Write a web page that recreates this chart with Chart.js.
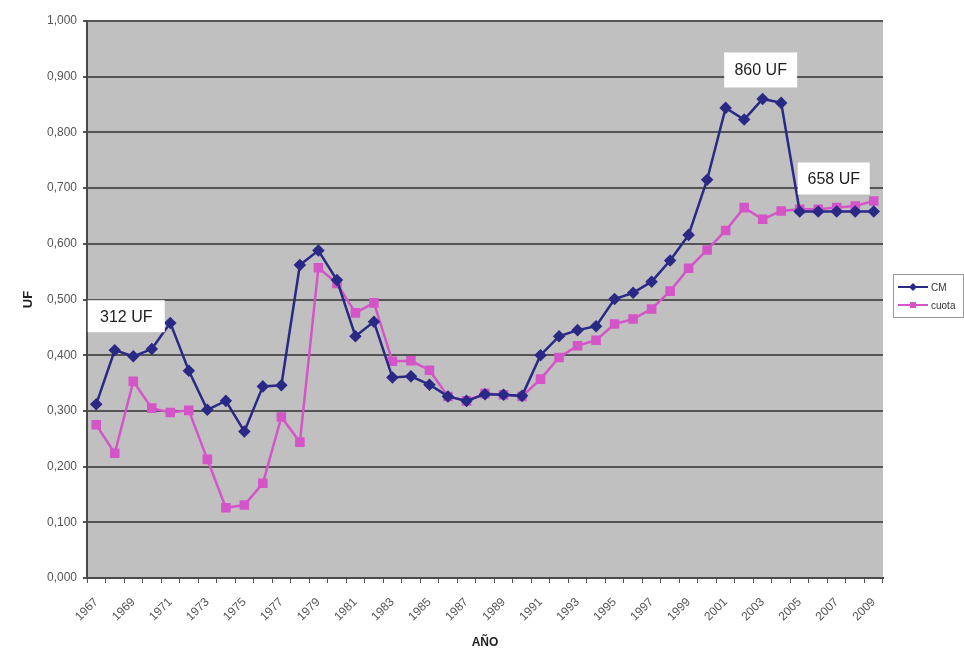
<!DOCTYPE html>
<html>
<head>
<meta charset="utf-8">
<title>CM y cuota (UF), 1967-2009</title>
<script src="https://cdn.jsdelivr.net/npm/chart.js@4/dist/chart.umd.min.js"></script>
<style>
  html, body { margin: 0; padding: 0; background: #ffffff; }
  #wrap { width: 964px; height: 650px; position: relative; }
</style>
</head>
<body>
<div id="wrap"><canvas id="chart" width="964" height="650"></canvas></div>
<script>
// Years on the category axis
const years = [
  '1967','1968','1969','1970','1971','1972','1973','1974','1975','1976',
  '1977','1978','1979','1980','1981','1982','1983','1984','1985','1986',
  '1987','1988','1989','1990','1991','1992','1993','1994','1995','1996',
  '1997','1998','1999','2000','2001','2002','2003','2004','2005','2006',
  '2007','2008','2009'
];

// CM series (UF)
const cmValues = [
  0.312, 0.409, 0.398, 0.411, 0.458, 0.372, 0.302, 0.318, 0.263, 0.344,
  0.346, 0.562, 0.588, 0.535, 0.434, 0.460, 0.360, 0.362, 0.347, 0.326,
  0.318, 0.330, 0.329, 0.327, 0.400, 0.434, 0.445, 0.452, 0.501, 0.512,
  0.532, 0.570, 0.616, 0.715, 0.844, 0.823, 0.860, 0.853, 0.658, 0.658,
  0.658, 0.658, 0.658
];

// cuota series (UF)
const cuotaValues = [
  0.275, 0.224, 0.353, 0.305, 0.297, 0.301, 0.213, 0.126, 0.131, 0.170,
  0.289, 0.244, 0.557, 0.529, 0.476, 0.494, 0.389, 0.390, 0.373, 0.326,
  0.318, 0.331, 0.329, 0.326, 0.357, 0.396, 0.417, 0.427, 0.456, 0.465,
  0.483, 0.515, 0.556, 0.589, 0.624, 0.665, 0.644, 0.659, 0.662, 0.662,
  0.665, 0.668, 0.677
];

// Y axis tick values
const yTicks = [0, 0.1, 0.2, 0.3, 0.4, 0.5, 0.6, 0.7, 0.8, 0.9, 1.0];

const seriesNames = ['CM', 'cuota'];
const CM_COLOR = '#2a2a86';
const CUOTA_COLOR = '#d455c8';

const fmtUF = v => v.toFixed(3).replace('.', ',');

// Callout boxes attached to CM points: category index, offset from the point, box size
const callouts = [
  { index: 0,  dx: 30,  dy: -88, w: 77, h: 32 },
  { index: 36, dx: -2,  dy: -29, w: 73, h: 35 },
  { index: 42, dx: -40, dy: -33, w: 72, h: 32 }
];

// Gray plot area background
const plotBackground = {
  id: 'plotBackground',
  beforeDraw(chart) {
    const { ctx, chartArea: a } = chart;
    ctx.save();
    ctx.fillStyle = '#c0c0c0';
    ctx.fillRect(a.left, a.top, a.right - a.left, a.bottom - a.top);
    ctx.restore();
  }
};

// White value callouts placed relative to the CM points
const valueCallouts = {
  id: 'valueCallouts',
  afterDatasetsDraw(chart) {
    const { ctx, scales: { x, y } } = chart;
    ctx.save();
    callouts.forEach(c => {
      const v = cmValues[c.index];
      const px = x.getPixelForValue(c.index);
      const py = y.getPixelForValue(v);
      const cx = px + c.dx, cy = py + c.dy;
      ctx.fillStyle = '#ffffff';
      ctx.fillRect(cx - c.w / 2, cy - c.h / 2, c.w, c.h);
      ctx.fillStyle = '#1e1e1e';
      ctx.font = '16px "Liberation Sans", Arial, sans-serif';
      ctx.textAlign = 'center';
      ctx.textBaseline = 'middle';
      ctx.fillText(Math.round(v * 1000) + ' UF', cx, cy + 1);
    });
    ctx.restore();
  }
};

// Boxed legend to the right of the plot
const boxedLegend = {
  id: 'boxedLegend',
  afterDraw(chart) {
    const { ctx } = chart;
    const bx = 893, by = 274, bw = 70, bh = 43;
    ctx.save();
    ctx.fillStyle = '#ffffff';
    ctx.fillRect(bx, by, bw, bh);
    ctx.strokeStyle = '#9a9a9a';
    ctx.lineWidth = 1;
    ctx.strokeRect(bx + 0.5, by + 0.5, bw, bh);
    chart.data.datasets.forEach((ds, i) => {
      const ly = by + 13 + i * 18;
      ctx.strokeStyle = ds.borderColor;
      ctx.lineWidth = 2;
      ctx.beginPath();
      ctx.moveTo(898, ly);
      ctx.lineTo(928, ly);
      ctx.stroke();
      ctx.fillStyle = ds.borderColor;
      ctx.beginPath();
      if (ds.pointStyle === 'rectRot') {
        ctx.moveTo(913, ly - 4); ctx.lineTo(917, ly); ctx.lineTo(913, ly + 4); ctx.lineTo(909, ly);
      } else {
        ctx.rect(910, ly - 3, 6, 6);
      }
      ctx.closePath();
      ctx.fill();
      ctx.fillStyle = '#333333';
      ctx.font = '10px "Liberation Sans", Arial, sans-serif';
      ctx.textAlign = 'left';
      ctx.textBaseline = 'middle';
      ctx.fillText(ds.label, 931, ly + 1);
    });
    ctx.restore();
  }
};

new Chart(document.getElementById('chart'), {
  type: 'line',
  data: {
    labels: years,
    datasets: [
      {
        label: seriesNames[0],
        data: cmValues,
        borderColor: CM_COLOR,
        backgroundColor: CM_COLOR,
        borderWidth: 2.5,
        pointStyle: 'rectRot',
        pointRadius: 4.5,
        pointHoverRadius: 4.5,
        tension: 0
      },
      {
        label: seriesNames[1],
        data: cuotaValues,
        borderColor: CUOTA_COLOR,
        backgroundColor: CUOTA_COLOR,
        borderWidth: 2.5,
        pointStyle: 'rect',
        pointRadius: 5,
        pointHoverRadius: 5,
        tension: 0
      }
    ]
  },
  options: {
    responsive: false,
    animation: false,
    devicePixelRatio: 1,
    layout: { padding: { top: 21, right: 81, bottom: 0, left: 0 } },
    plugins: {
      legend: { display: false },
      tooltip: { enabled: false }
    },
    scales: {
      x: {
        type: 'category',
        offset: true,
        afterFit: s => { s.height = 72; },
        grid: {
          offset: true,
          drawOnChartArea: false,
          drawTicks: true,
          tickLength: 5,
          color: '#555555',
          lineWidth: 1
        },
        border: { display: true, color: '#4a4a4a', width: 2 },
        ticks: {
          autoSkip: false,
          maxRotation: 45,
          minRotation: 45,
          padding: 12,
          color: '#555555',
          font: { family: '"Liberation Sans", Arial, sans-serif', size: 12 },
          callback: (v, i) => (i % 2 === 0 ? years[i] : '')
        },
        title: {
          display: true,
          text: 'AÑO',
          color: '#222222',
          font: { family: '"Liberation Sans", Arial, sans-serif', size: 12, weight: 'bold' },
          padding: { top: 0, bottom: 0 }
        }
      },
      y: {
        min: 0,
        max: 1,
        afterFit: s => { s.width = 87; },
        afterBuildTicks: s => { s.ticks = yTicks.map(v => ({ value: v })); },
        grid: {
          color: '#545454',
          lineWidth: 2,
          drawTicks: true,
          tickLength: 4
        },
        border: { display: true, color: '#4a4a4a', width: 2 },
        ticks: {
          padding: 6,
          color: '#555555',
          font: { family: '"Liberation Sans", Arial, sans-serif', size: 12 },
          callback: v => fmtUF(v)
        },
        title: {
          display: true,
          text: 'UF',
          color: '#222222',
          font: { family: '"Liberation Sans", Arial, sans-serif', size: 13, weight: 'bold' },
          padding: { top: 21, bottom: 0 }
        }
      }
    }
  },
  plugins: [plotBackground, valueCallouts, boxedLegend]
});
</script>
</body>
</html>
